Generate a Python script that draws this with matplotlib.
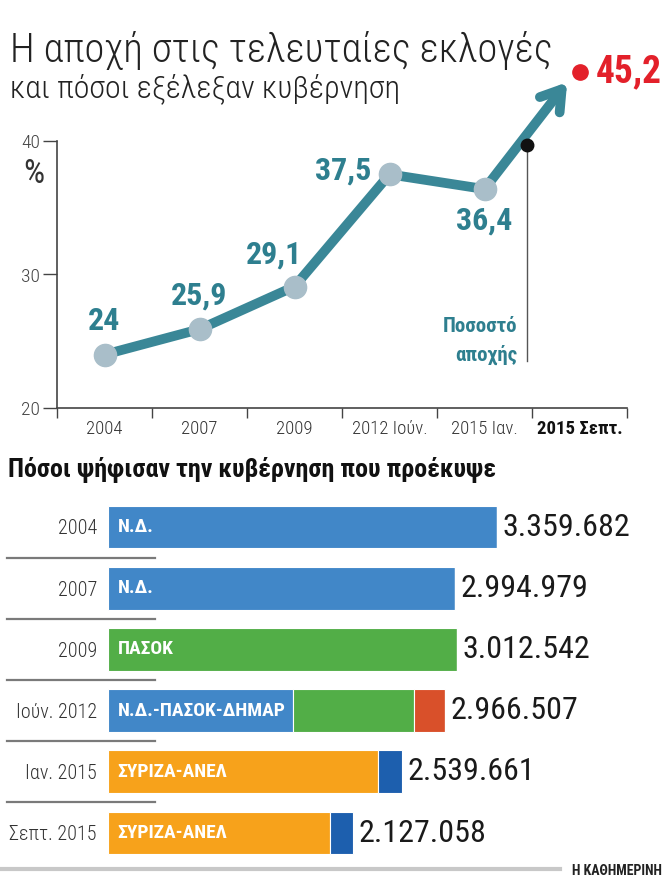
import matplotlib
matplotlib.use('Agg')
import matplotlib.pyplot as plt
from matplotlib import font_manager
from matplotlib.transforms import blended_transform_factory

# ---- data ----
years = ['2004', '2007', '2009', '2012 Ιούν.', '2015 Ιαν.', '2015 Σεπτ.']
abstention = [24, 25.9, 29.1, 37.5, 36.4]
abstention_labels = ['24', '25,9', '29,1', '37,5', '36,4']
latest_abstention = 45.2
latest_label = '45,2'

vote_rows = ['2004', '2007', '2009', 'Ιούν. 2012', 'Ιαν. 2015', 'Σεπτ. 2015']
gov_names = ['Ν.Δ.', 'Ν.Δ.', 'ΠΑΣΟΚ', 'Ν.Δ.-ΠΑΣΟΚ-ΔΗΜΑΡ', 'ΣΥΡΙΖΑ-ΑΝΕΛ', 'ΣΥΡΙΖΑ-ΑΝΕΛ']
vote_totals = [3359682, 2994979, 3012542, 2966507, 2539661, 2127058]
vote_total_labels = ['3.359.682', '2.994.979', '3.012.542', '2.966.507', '2.539.661', '2.127.058']
nd_votes = [3359682, 2994979, 0, 1595000, 0, 0]
pasok_votes = [0, 0, 3012542, 1050000, 0, 0]
dimar_votes = [0, 0, 0, 265000, 0, 0]
syriza_votes = [0, 0, 0, 0, 2333000, 1919000]
anel_votes = [0, 0, 0, 0, 207000, 199000]

# ---- fonts ----
installed = {f.name for f in font_manager.fontManager.ttflist}
COND = 'Roboto Condensed' if 'Roboto Condensed' in installed else 'DejaVu Sans'
plt.rcParams['font.family'] = [COND, 'DejaVu Sans']

teal = '#3a8797'
teal_text = '#2e7f8f'
dot_grey = '#a9bec9'
red = '#e3202a'
dark = '#333333'

fig = plt.figure(figsize=(6.65, 8.76), dpi=100)

# Titles
fig.text(0.015, 1 - 62 / 876, 'Η αποχή στις τελευταίες εκλογές', fontsize=29, fontweight='light',
         color='#222222', va='baseline')
fig.text(0.015, 1 - 97 / 876, 'και πόσοι εξέλεξαν κυβέρνηση', fontsize=23, fontweight='light',
         color='#222222', va='baseline')

# ---- line chart ----
ax = fig.add_axes([57 / 665, 1 - 408 / 876, 570 / 665, (408 - 141) / 876])
x = list(range(len(abstention)))
ax.plot(x, abstention, color=teal, lw=7, solid_capstyle='round', zorder=2)
ax.plot(x, abstention, 'o', color=dot_grey, ms=16, zorder=3)

offsets = [(0, 24, 'center'), (0, 24, 'center'), (-15, 23, 'center'), (-13, 3, 'right'), (0, -23, 'center')]
for xi, yi, lab, (dx, dy, ha) in zip(x, abstention, abstention_labels, offsets):
    ax.annotate(lab, xy=(xi, yi), xytext=(dx, dy), textcoords='offset points', ha=ha,
                va='center', fontsize=23, fontweight='bold', color=teal_text)

# arrow toward the latest election
ax.annotate('', xy=(4.87, 44.4), xytext=(4, 36.4), annotation_clip=False,
            arrowprops=dict(arrowstyle='->,head_length=0.7,head_width=0.45', lw=7,
                            color=teal, mutation_scale=20, shrinkA=0, shrinkB=0), zorder=1)
ax.plot([5], [latest_abstention], 'o', color=red, ms=11, clip_on=False)
ax.text(5.17, latest_abstention, latest_label, fontsize=27, fontweight='bold', color=red,
        va='center', ha='left', clip_on=False)

# abstention marker and note
ax.plot([4.45, 4.45], [39.7, 23.5], color='#555555', lw=1, zorder=1, clip_on=False)
ax.plot([4.45], [39.7], 'o', color='#111111', ms=9, zorder=4, clip_on=False)
ax.text(4.35, 26.1, 'Ποσοστό', fontsize=15, fontweight='bold', color=teal_text, ha='right', va='center')
ax.text(4.35, 24.0, 'αποχής', fontsize=15, fontweight='bold', color=teal_text, ha='right', va='center')

ax.text(-0.74, 37.5, '%', fontsize=24, color=dark, ha='center', va='center', clip_on=False)

ax.set_xlim(-0.5, 5.5)
ax.set_ylim(20, 40)
ax.set_yticks([20, 30, 40])
ax.tick_params(axis='y', direction='out', length=10, width=1, pad=2, labelsize=14,
               colors='#444444')
ax.set_xticks(range(len(years)))
ax.set_xticklabels(years)
ax.set_xticks([i - 0.5 for i in range(len(years) + 1)], minor=True)
ax.tick_params(axis='x', which='major', length=0, pad=9, labelsize=13.5, labelcolor='#333333')
ax.tick_params(axis='x', which='minor', direction='out', length=7, width=1, color='#444444')
for t in ax.get_xticklabels()[:-1]:
    t.set_fontweight('light')
ax.get_xticklabels()[-1].set_fontweight('bold')
ax.get_xticklabels()[-1].set_color('#111111')
for t in ax.get_yticklabels():
    t.set_fontweight('light')
for s in ['top', 'right']:
    ax.spines[s].set_visible(False)
for s in ['left', 'bottom']:
    ax.spines[s].set_color('#444444')
    ax.spines[s].set_linewidth(1.2)

# ---- votes chart ----
fig.text(0.012, 1 - 470 / 876, 'Πόσοι ψήφισαν την κυβέρνηση που προέκυψε', fontsize=18.7,
         fontweight='bold', color='#111111', va='center')

bx = fig.add_axes([108 / 665, 1 - 863.6 / 876, 557 / 665, (863.6 - 496.4) / 876])
rows = list(range(len(vote_rows)))
bar_h = 0.70
left = [0] * len(rows)
for vals, col in [(nd_votes, '#4187c8'), (pasok_votes, '#52ae47'), (dimar_votes, '#d9502a'),
                  (syriza_votes, '#f7a21b'), (anel_votes, '#1d5fae')]:
    bx.barh(rows, vals, left=left, height=bar_h, color=col, edgecolor='white', linewidth=0.8)
    left = [l + v for l, v in zip(left, vals)]

for r, name, end, lab in zip(rows, gov_names, left, vote_total_labels):
    bx.annotate(name, xy=(0, r), xytext=(7, 0), textcoords='offset points', va='center',
                ha='left', fontsize=14, fontweight='bold', color='white')
    bx.annotate(lab, xy=(end, r), xytext=(4, 0), textcoords='offset points', va='center',
                ha='left', fontsize=23, color='#1a1a1a')

bx.set_xlim(0, 4814000)
bx.set_ylim(5.5, -0.5)
bx.set_yticks(rows)
bx.set_yticklabels(vote_rows)
bx.tick_params(axis='y', length=0, pad=8, labelsize=14.5, labelcolor=dark)
for t in bx.get_yticklabels():
    t.set_fontweight('light')
bx.set_xticks([])
for s in bx.spines.values():
    s.set_visible(False)

# separators under the row labels
tr = blended_transform_factory(fig.transFigure, bx.transData)
for r in rows[:-1]:
    bx.plot([7 / 665, 155 / 665], [r + 0.5, r + 0.5], transform=tr, color='#7a7a7a', lw=1.6,
            clip_on=False)

# footer
fig.add_artist(plt.Line2D([0, 560 / 665], [1 - 869 / 876] * 2, color='#c8c8c8', lw=3))
fig.text(572 / 665, 1 - 864 / 876, 'Η ΚΑΘΗΜΕΡΙΝΗ', fontsize=10, fontweight='bold',
         color='#222222', va='top', ha='left')

fig.savefig('out.png', dpi=100)
